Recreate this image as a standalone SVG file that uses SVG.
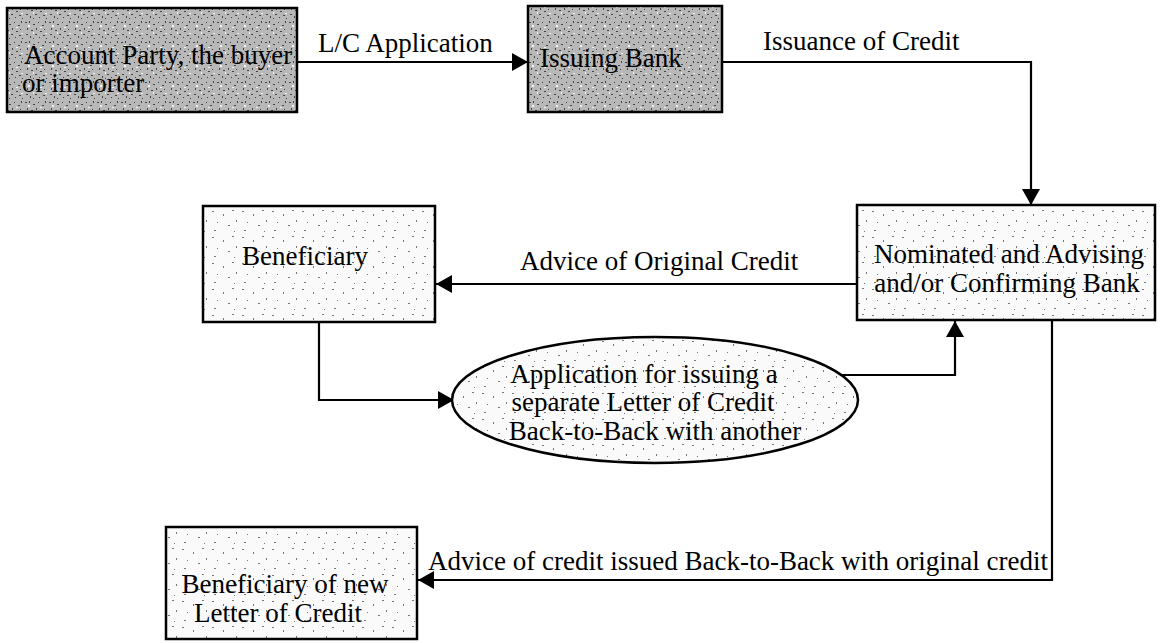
<svg xmlns="http://www.w3.org/2000/svg" width="1161" height="643" viewBox="0 0 1161 643">
  <style>
    .box { stroke: #000; stroke-width: 2.5; }
    .heavy { fill: url(#speckHeavy); }
    .light { fill: url(#speckLight); }
    .lbl { font-family: "Liberation Serif", "Times New Roman", serif; font-size: 27px; fill: #000; }
    .mid { text-anchor: middle; }
    .wire { fill: none; stroke: #000; stroke-width: 2.2; }
  </style>
  <defs>
    <!-- dense grey stipple -->
    <pattern id="speckHeavy" width="24" height="20" patternUnits="userSpaceOnUse">
      <rect width="24" height="20" fill="#b8b8b8"/>
      <g fill="#444">
        <rect x="1" y="2" width="2" height="1"/><rect x="5" y="1" width="1" height="2"/>
        <rect x="9" y="4" width="2" height="1"/><rect x="14" y="2" width="1" height="1"/>
        <rect x="18" y="5" width="2" height="1"/><rect x="21" y="1" width="1" height="2"/>
        <rect x="3" y="8" width="1" height="2"/><rect x="7" y="10" width="2" height="1"/>
        <rect x="12" y="8" width="1" height="2"/><rect x="16" y="11" width="2" height="1"/>
        <rect x="20" y="9" width="1" height="1"/><rect x="2" y="14" width="2" height="1"/>
        <rect x="6" y="16" width="1" height="2"/><rect x="11" y="14" width="2" height="1"/>
        <rect x="15" y="17" width="1" height="1"/><rect x="19" y="15" width="2" height="1"/>
        <rect x="22" y="18" width="1" height="1"/><rect x="9" y="18" width="1" height="1"/>
      </g>
      <g fill="#f2f2f2">
        <rect x="4" y="5" width="2" height="2"/><rect x="16" y="7" width="2" height="1"/>
        <rect x="9" y="12" width="1" height="2"/><rect x="21" y="13" width="2" height="1"/>
      </g>
    </pattern>
    <!-- sparse grey stipple -->
    <pattern id="speckLight" width="30" height="26" patternUnits="userSpaceOnUse">
      <rect width="30" height="26" fill="#fafafa"/>
      <g fill="#777">
        <rect x="2" y="3" width="2" height="1"/><rect x="13" y="6" width="1" height="2"/>
        <rect x="22" y="2" width="2" height="1"/><rect x="7" y="14" width="1" height="1"/>
        <rect x="18" y="17" width="2" height="1"/><rect x="26" y="12" width="1" height="2"/>
        <rect x="4" y="22" width="2" height="1"/><rect x="24" y="23" width="1" height="1"/>
      </g>
    </pattern>
    <marker id="tip" viewBox="0 0 16 18" refX="16" refY="9" markerWidth="16" markerHeight="18" markerUnits="userSpaceOnUse" orient="auto">
      <path d="M0,0 L16,9 L0,18 Z" fill="#000"/>
    </marker>
  </defs>

  <rect width="1161" height="643" fill="#fff"/>

  <!-- connectors -->
  <g id="connectors">
    <path class="wire" d="M297,62 H528" marker-end="url(#tip)"/>
    <path class="wire" d="M722,62 H1031 V205" marker-end="url(#tip)"/>
    <path class="wire" d="M857,284 H436" marker-end="url(#tip)"/>
    <path class="wire" d="M319,322 V400 H454" marker-end="url(#tip)"/>
    <path class="wire" d="M840,375 H955 V321" marker-end="url(#tip)"/>
    <path class="wire" d="M1052,320 V580 H418" marker-end="url(#tip)"/>
    <text class="lbl" x="318" y="52">L/C Application</text>
    <text class="lbl" x="763" y="50">Issuance of Credit</text>
    <text class="lbl" x="520" y="270">Advice of Original Credit</text>
    <text class="lbl" x="428" y="570">Advice of credit issued Back-to-Back with original credit</text>
  </g>

  <g id="account-party">
    <rect class="box heavy" x="7" y="8" width="290" height="104"/>
    <text class="lbl" x="24" y="64">Account Party, the buyer</text>
    <text class="lbl" x="22" y="92">or importer</text>
  </g>

  <g id="issuing-bank">
    <rect class="box heavy" x="528" y="6" width="194" height="106"/>
    <text class="lbl" x="540" y="67">Issuing Bank</text>
  </g>

  <g id="nominated-bank">
    <rect class="box light" x="857" y="205" width="298" height="115"/>
    <text class="lbl mid" x="1009" y="263">Nominated and Advising</text>
    <text class="lbl mid" x="1007" y="292">and/or Confirming Bank</text>
  </g>

  <g id="beneficiary">
    <rect class="box light" x="203" y="206" width="232" height="116"/>
    <text class="lbl" x="242" y="265">Beneficiary</text>
  </g>

  <g id="application">
    <ellipse class="box light" cx="655" cy="400" rx="203" ry="63"/>
    <text class="lbl mid" x="644" y="383">Application for issuing a</text>
    <text class="lbl mid" x="643" y="411">separate Letter of Credit</text>
    <text class="lbl mid" x="655" y="440">Back-to-Back with another</text>
  </g>

  <g id="new-beneficiary">
    <rect class="box light" x="166" y="527" width="251" height="112"/>
    <text class="lbl mid" x="285" y="593">Beneficiary of new</text>
    <text class="lbl mid" x="278" y="622">Letter of Credit</text>
  </g>
</svg>
